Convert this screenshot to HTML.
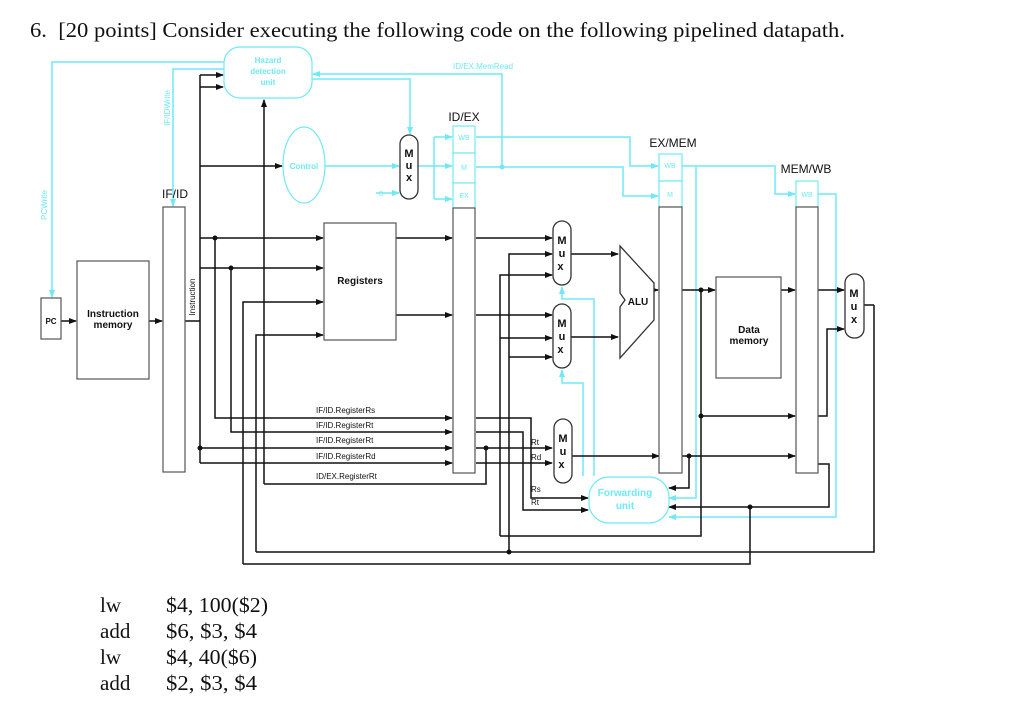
<!DOCTYPE html>
<html><head><meta charset="utf-8"><style>
html,body{margin:0;padding:0;background:#fff;}
svg{display:block;}
.k{fill:none;stroke:#111;stroke-width:1.5;}
.c{fill:none;stroke:#6ee9f5;stroke-width:1.5;}
.box{fill:#fff;stroke:#555;stroke-width:1.2;}
.cbox{fill:#fff;stroke:#6ee9f5;stroke-width:1.2;}
.t{font-family:"Liberation Sans",sans-serif;fill:#111;}
.ct{font-family:"Liberation Sans",sans-serif;fill:#6ee9f5;}
.s{font-family:"Liberation Serif",serif;fill:#111;font-size:21px;}
</style></head><body>
<svg width="1024" height="716" viewBox="0 0 1024 716" xmlns="http://www.w3.org/2000/svg">
<defs>
<marker id="a" markerWidth="8" markerHeight="6" refX="7" refY="3" orient="auto" markerUnits="userSpaceOnUse"><path d="M0,0 L8,3 L0,6z" fill="#111"/></marker>
<marker id="b" markerWidth="8" markerHeight="6" refX="7" refY="3" orient="auto" markerUnits="userSpaceOnUse"><path d="M0,0 L8,3 L0,6z" fill="#6ee9f5"/></marker>
</defs>
<text x="30" y="37" class="s" font-size="22" textLength="815" lengthAdjust="spacingAndGlyphs">6.&#160;&#160;[20 points] Consider executing the following code on the following pipelined datapath.</text>

<polyline class="c" points="224,62 52,62 52,297" marker-end="url(#b)"/>
<polyline class="c" points="224,69 173,69 173,206" marker-end="url(#b)"/>
<polyline class="c" points="312,79 410,79 410,134" marker-end="url(#b)"/>
<polyline class="c" points="502,167 502,74 313,74" marker-end="url(#b)"/>
<line class="c" x1="325" y1="166" x2="399" y2="166" marker-end="url(#b)"/>
<line class="c" x1="376" y1="193" x2="399" y2="193" marker-end="url(#b)"/>
<line class="c" x1="418" y1="166" x2="452" y2="166" marker-end="url(#b)"/>
<polyline class="c" points="434,137 434,199"/>
<line class="c" x1="434" y1="137" x2="452" y2="137" marker-end="url(#b)"/>
<line class="c" x1="434" y1="199" x2="452" y2="199" marker-end="url(#b)"/>
<polyline class="c" points="476,137 630,137 630,166 658,166" marker-end="url(#b)"/>
<polyline class="c" points="476,167 623,167 623,196 658,196" marker-end="url(#b)"/>
<circle cx="502" cy="167" r="2.5" fill="#6ee9f5"/>
<polyline class="c" points="682,166 775,166 775,194 795,194" marker-end="url(#b)"/>
<polyline class="c" points="696,166 696,498 669,498" marker-end="url(#b)"/>
<polyline class="c" points="818,194 836,194 836,517 669,517" marker-end="url(#b)"/>
<polyline class="c" points="594,476 594,299 562,299 562,287" marker-end="url(#b)"/>
<polyline class="c" points="583,476 583,383 562,383 562,370" marker-end="url(#b)"/>

<line class="k" x1="61" y1="321" x2="76" y2="321" marker-end="url(#a)"/>
<line class="k" x1="149" y1="321" x2="162" y2="321" marker-end="url(#a)"/>
<polyline class="k" points="185,321 200,321"/>
<polyline class="k" points="200,75 200,463"/>
<line class="k" x1="200" y1="75" x2="223" y2="75" marker-end="url(#a)"/>
<line class="k" x1="200" y1="87" x2="223" y2="87" marker-end="url(#a)"/>
<line class="k" x1="200" y1="166" x2="282" y2="166" marker-end="url(#a)"/>
<line class="k" x1="200" y1="238" x2="323" y2="238" marker-end="url(#a)"/>
<line class="k" x1="200" y1="268" x2="323" y2="268" marker-end="url(#a)"/>
<polyline class="k" points="215,238 215,418 452,418" marker-end="url(#a)"/>
<polyline class="k" points="231,268 231,432 452,432" marker-end="url(#a)"/>
<line class="k" x1="200" y1="448" x2="452" y2="448" marker-end="url(#a)"/>
<polyline class="k" points="200,463 452,463" marker-end="url(#a)"/>
<circle cx="215" cy="238" r="2.5" fill="#111"/><circle cx="231" cy="268" r="2.5" fill="#111"/><circle cx="200" cy="448" r="2.5" fill="#111"/>
<polyline class="k" points="243,564 243,302 323,302" marker-end="url(#a)"/>
<polyline class="k" points="256,552 256,335 323,335" marker-end="url(#a)"/>
<polyline class="k" points="264,484 264,100" marker-end="url(#a)"/>
<polyline class="k" points="264,484 486,484 486,448"/>
<circle cx="486" cy="448" r="2.5" fill="#111"/>
<line class="k" x1="396" y1="238" x2="452" y2="238" marker-end="url(#a)"/>
<line class="k" x1="396" y1="315" x2="452" y2="315" marker-end="url(#a)"/>
<line class="k" x1="476" y1="238" x2="552" y2="238" marker-end="url(#a)"/>
<line class="k" x1="476" y1="315" x2="552" y2="315" marker-end="url(#a)"/>
<polyline class="k" points="476,418 531,418 531,498 588,498" marker-end="url(#a)"/>
<polyline class="k" points="476,432 523,432 523,510 588,510" marker-end="url(#a)"/>
<line class="k" x1="476" y1="448" x2="552" y2="448" marker-end="url(#a)"/>
<line class="k" x1="476" y1="463" x2="552" y2="463" marker-end="url(#a)"/>
<line class="k" x1="572" y1="456" x2="659" y2="456" marker-end="url(#a)"/>
<line class="k" x1="682" y1="456" x2="795" y2="456" marker-end="url(#a)"/>
<polyline class="k" points="689,456 689,488 669,488" marker-end="url(#a)"/>
<circle cx="689" cy="456" r="2.5" fill="#111"/>
<polyline class="k" points="818,464 829,464 829,507 669,507" marker-end="url(#a)"/>
<polyline class="k" points="750,507 750,564 243,564"/>
<circle cx="750" cy="507" r="2.5" fill="#111"/>
<polyline class="k" points="509,552 509,254 552,254" marker-end="url(#a)"/>
<line class="k" x1="509" y1="357" x2="552" y2="357" marker-end="url(#a)"/>
<polyline class="k" points="500,536 500,275 552,275" marker-end="url(#a)"/>
<line class="k" x1="500" y1="338" x2="552" y2="338" marker-end="url(#a)"/>
<polyline class="k" points="701,290 701,536 500,536"/>
<polyline class="k" points="874,305 874,552 256,552"/>
<circle cx="509" cy="552" r="2.5" fill="#111"/>
<line class="k" x1="571" y1="254" x2="618" y2="254" marker-end="url(#a)"/>
<line class="k" x1="571" y1="337" x2="618" y2="337" marker-end="url(#a)"/>
<line class="k" x1="654" y1="290" x2="658" y2="290" marker-end="url(#a)"/>
<line class="k" x1="682" y1="290" x2="715" y2="290" marker-end="url(#a)"/>
<circle cx="701" cy="290" r="2.5" fill="#111"/>
<line class="k" x1="701" y1="416" x2="795" y2="416" marker-end="url(#a)"/>
<circle cx="701" cy="416" r="2.5" fill="#111"/>
<line class="k" x1="781" y1="290" x2="795" y2="290" marker-end="url(#a)"/>
<line class="k" x1="818" y1="290" x2="844" y2="290" marker-end="url(#a)"/>
<polyline class="k" points="818,416 827,416 827,329 844,329" marker-end="url(#a)"/>
<polyline class="k" points="864,305 874,305"/>

<rect x="224" y="47" width="88" height="51" rx="16" class="cbox"/>
<text class="ct" font-size="8" font-weight="bold" text-anchor="middle"><tspan x="268" y="63">Hazard</tspan><tspan x="268" y="74">detection</tspan><tspan x="268" y="85">unit</tspan></text>
<text class="ct" font-size="8" x="453" y="69">ID/EX.MemRead</text>
<text class="ct" font-size="8" transform="translate(170,108) rotate(-90)" text-anchor="middle">IF/IDWrite</text>
<text class="ct" font-size="8" transform="translate(47,205) rotate(-90)" text-anchor="middle">PCWrite</text>
<rect x="41" y="298" width="20" height="41" class="box"/>
<text class="t" x="51" y="324" font-size="8" font-weight="bold" text-anchor="middle">PC</text>
<rect x="77" y="261" width="72" height="118" class="box"/>
<text class="t" font-size="10" font-weight="bold" text-anchor="middle"><tspan x="113" y="317">Instruction</tspan><tspan x="113" y="328">memory</tspan></text>
<rect x="163" y="207" width="22" height="265" class="box"/>
<text class="t" x="175" y="198" font-size="12" text-anchor="middle">IF/ID</text>
<text class="t" font-size="8" transform="translate(195,297) rotate(-90)" text-anchor="middle">Instruction</text>
<ellipse cx="304" cy="165" rx="21" ry="38" class="cbox"/>
<text class="ct" x="304" y="169" font-size="8" font-weight="bold" text-anchor="middle">Control</text>
<text class="ct" x="381" y="196" font-size="7" text-anchor="middle">0</text>
<rect x="400" y="135" width="18" height="64" rx="9" fill="#fff" stroke="#333" stroke-width="1.3"/>
<text class="t" font-size="11" font-weight="bold" text-anchor="middle"><tspan x="409" y="157">M</tspan><tspan x="409" y="169">u</tspan><tspan x="409" y="181">x</tspan></text>
<rect x="324" y="223" width="72" height="117" class="box"/>
<text class="t" x="360" y="284" font-size="10" font-weight="bold" text-anchor="middle">Registers</text>
<rect x="453" y="126" width="22" height="27" class="cbox"/><rect x="453" y="153" width="22" height="30" class="cbox"/><rect x="453" y="183" width="22" height="25" class="cbox"/>
<text class="ct" font-size="7" text-anchor="middle"><tspan x="464" y="140">WB</tspan><tspan x="464" y="170">M</tspan><tspan x="464" y="198">EX</tspan></text>
<rect x="453" y="208" width="22" height="265" class="box"/>
<text class="t" x="464" y="121" font-size="12" text-anchor="middle">ID/EX</text>
<rect x="659" y="154" width="23" height="27" class="cbox"/><rect x="659" y="181" width="23" height="26" class="cbox"/>
<text class="ct" font-size="7" text-anchor="middle"><tspan x="670" y="168">WB</tspan><tspan x="670" y="197">M</tspan></text>
<rect x="659" y="207" width="23" height="266" class="box"/>
<text class="t" x="673" y="147" font-size="12" text-anchor="middle">EX/MEM</text>
<rect x="796" y="181" width="22" height="26" class="cbox"/>
<text class="ct" font-size="7" x="807" y="197" text-anchor="middle">WB</text>
<rect x="796" y="207" width="22" height="266" class="box"/>
<text class="t" x="806" y="173" font-size="12" text-anchor="middle">MEM/WB</text>
<g fill="#fff" stroke="#333" stroke-width="1.3">
<rect x="553" y="221" width="18" height="64" rx="9"/>
<rect x="553" y="304" width="18" height="64" rx="9"/>
<rect x="554" y="419" width="18" height="64" rx="9"/>
<rect x="845" y="274" width="19" height="64" rx="9"/>
</g>
<text class="t" font-size="11" font-weight="bold" text-anchor="middle">
<tspan x="562" y="244">M</tspan><tspan x="562" y="257">u</tspan><tspan x="562" y="270">x</tspan>
<tspan x="562" y="327">M</tspan><tspan x="562" y="340">u</tspan><tspan x="562" y="353">x</tspan>
<tspan x="563" y="442">M</tspan><tspan x="563" y="455">u</tspan><tspan x="563" y="468">x</tspan>
<tspan x="854" y="297">M</tspan><tspan x="854" y="310">u</tspan><tspan x="854" y="323">x</tspan>
</text>
<polygon points="620,246 654,283 654,320 620,358 620,307 625,300 620,293" fill="#fff" stroke="#333" stroke-width="1.3"/>
<text class="t" x="638" y="305" font-size="10" font-weight="bold" text-anchor="middle">ALU</text>
<rect x="716" y="277" width="65" height="101" class="box"/>
<text class="t" font-size="10" font-weight="bold" text-anchor="middle"><tspan x="749" y="333">Data</tspan><tspan x="749" y="344">memory</tspan></text>
<rect x="589" y="477" width="80" height="46" rx="20" class="cbox"/>
<text class="ct" font-size="10" font-weight="bold" text-anchor="middle"><tspan x="625" y="496">Forwarding</tspan><tspan x="625" y="509">unit</tspan></text>
<text class="t" font-size="8"><tspan x="316" y="413">IF/ID.RegisterRs</tspan><tspan x="316" y="428">IF/ID.RegisterRt</tspan><tspan x="316" y="443">IF/ID.RegisterRt</tspan><tspan x="316" y="459">IF/ID.RegisterRd</tspan><tspan x="316" y="479">ID/EX.RegisterRt</tspan></text>
<text class="t" font-size="8"><tspan x="531" y="445">Rt</tspan><tspan x="531" y="460">Rd</tspan><tspan x="531" y="492">Rs</tspan><tspan x="531" y="505">Rt</tspan></text>
<text class="s"><tspan x="100" y="612">lw</tspan><tspan x="100" y="638">add</tspan><tspan x="100" y="664">lw</tspan><tspan x="100" y="690">add</tspan></text>
<text class="s" x="166" y="612" textLength="102" lengthAdjust="spacingAndGlyphs">$4, 100($2)</text>
<text class="s" x="166" y="638" textLength="91" lengthAdjust="spacingAndGlyphs">$6, $3, $4</text>
<text class="s" x="166" y="664" textLength="91" lengthAdjust="spacingAndGlyphs">$4, 40($6)</text>
<text class="s" x="166" y="690" textLength="91" lengthAdjust="spacingAndGlyphs">$2, $3, $4</text>
</svg>
</body></html>
